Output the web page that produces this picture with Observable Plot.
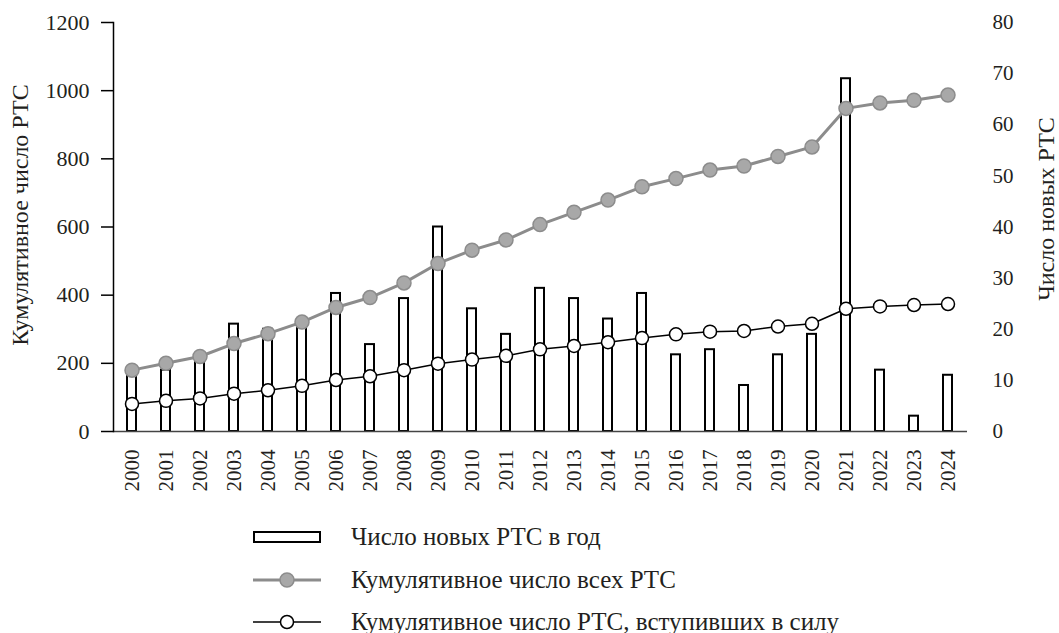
<!DOCTYPE html>
<html><head><meta charset="utf-8">
<script src="https://cdn.jsdelivr.net/npm/d3@7"></script>
<script src="https://cdn.jsdelivr.net/npm/@observablehq/plot@0.6"></script>
<style>
body{margin:0;background:#fff;font-family:"Liberation Serif","Times New Roman",Tinos,"Noto Serif","DejaVu Serif",FreeSerif,serif;}
#legend{position:relative;height:128px;width:1059px;}
.row{position:absolute;left:253px;height:30px;display:flex;align-items:center;font-size:25px;color:#231f20;white-space:nowrap}
.row svg{margin-right:30px;flex:none}
</style></head><body>
<div id="chart"></div>
<div id="legend"></div>
<script>
const years = ["2000","2001","2002","2003","2004","2005","2006","2007","2008","2009","2010","2011","2012","2013","2014","2015","2016","2017","2018","2019","2020","2021","2022","2023","2024"];
const newPerYear = [12,12,15,21,20,21,27,17,26,40,24,19,28,26,22,27,15,16,9,15,19,69,12,3,11];
const cumAll = [180,200,220,258,287,321,364,393,436,493,532,562,607,643,679,718,742,767,779,807,835,948,964,972,987];
const cumInForce = [81,90,97,111,121,134,151,162,180,199,211,222,241,251,262,274,285,293,295,308,316,360,367,371,374];
const leftTicks = [0,200,400,600,800,1000,1200];
const rightTicks = [0,10,20,30,40,50,60,70,80];
const leftTitle = "Кумулятивное число РТС";
const rightTitle = "Число новых РТС";
const legendLabels = ["Число новых РТС в год","Кумулятивное число всех РТС","Кумулятивное число РТС, вступивших в силу"];

const ratio = 1200 / 80;
const data = years.map((y, i) => ({year: y, n: newPerYear[i], all: cumAll[i], force: cumInForce[i]}));
const FONT = '"Liberation Serif","Times New Roman",Tinos,"Noto Serif","DejaVu Serif",FreeSerif,serif';

const chart = Plot.plot({
  width: 1059, height: 505,
  marginLeft: 113, marginRight: 92, marginTop: 22, marginBottom: 74,
  style: {fontFamily: FONT, fontSize: "21px", color: "#231f20", background: "#fff"},
  x: {type: "band", domain: years, paddingInner: 0.73, paddingOuter: 0.365},
  y: {domain: [0, 1200]},
  marks: [
    Plot.barY(data, {x: "year", y: d => d.n * ratio, fill: "#fff", stroke: "#000", strokeWidth: 2}),
    Plot.ruleY([0], {stroke: "#444", strokeWidth: 1.5}),
    Plot.frame({anchor: "left", stroke: "#000", strokeWidth: 1.5}),
    Plot.line(data, {x: "year", y: "all", stroke: "#8c8c8c", strokeWidth: 3}),
    Plot.dot(data, {x: "year", y: "all", r: 7, fill: "#a8a8a8", stroke: "#8c8c8c", strokeWidth: 1.5}),
    Plot.line(data, {x: "year", y: "force", stroke: "#000", strokeWidth: 1.5}),
    Plot.dot(data, {x: "year", y: "force", r: 6.5, fill: "#fff", stroke: "#000", strokeWidth: 1.5}),
    Plot.axisX({tickRotate: -90, tickSize: 0, tickPadding: 18, label: null}),
    Plot.axisY({anchor: "left", ticks: leftTicks, tickFormat: d => String(d), tickSize: 12, tickPadding: 12, label: null, stroke: "#000", strokeWidth: 1.5, fontSize: 22}),
    Plot.axisY({anchor: "right", ticks: rightTicks.map(v => v * ratio), tickFormat: d => String(d / ratio), tickSize: 0, tickPadding: 25, label: null}),
    Plot.text([leftTitle], {text: d => d, frameAnchor: "left", textAnchor: "middle", rotate: -90, dx: -93, dy: -12, lineAnchor: "middle", fontSize: 24}),
    Plot.text([rightTitle], {text: d => d, frameAnchor: "right", textAnchor: "middle", rotate: -90, dx: 79, dy: -18, lineAnchor: "middle", fontSize: 24})
  ]
});
document.getElementById("chart").appendChild(chart);

const swatches = [
  '<svg width="68" height="20"><rect x="1" y="5" width="66" height="10" fill="#fff" stroke="#000" stroke-width="2"/></svg>',
  '<svg width="68" height="20"><line x1="0" x2="68" y1="10" y2="10" stroke="#8c8c8c" stroke-width="3"/><circle cx="34" cy="10" r="7" fill="#a8a8a8" stroke="#8c8c8c" stroke-width="1.5"/></svg>',
  '<svg width="68" height="20"><line x1="0" x2="68" y1="10" y2="10" stroke="#000" stroke-width="1.5"/><circle cx="34" cy="10" r="6.5" fill="#fff" stroke="#000" stroke-width="1.5"/></svg>'
];
const tops = [17, 60, 102];
const legend = document.getElementById("legend");
legendLabels.forEach((t, i) => {
  const row = document.createElement("div");
  row.className = "row";
  row.style.top = tops[i] + "px";
  row.innerHTML = swatches[i];
  const span = document.createElement("span");
  span.textContent = t;
  row.appendChild(span);
  legend.appendChild(row);
});
</script>
</body></html>
